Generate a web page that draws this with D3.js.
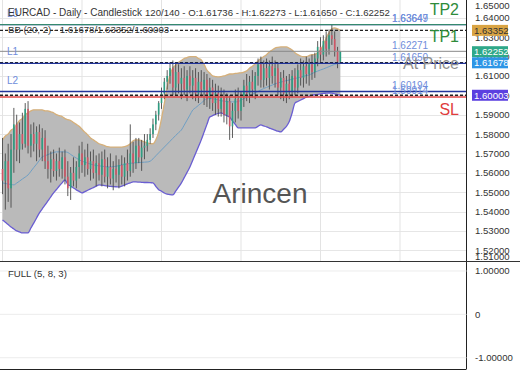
<!DOCTYPE html>
<html>
<head>
<meta charset="utf-8">
<script src="https://cdn.jsdelivr.net/npm/d3@7"></script>
<style>
  body { margin: 0; background: #fff; }
  svg { display: block; font-family: "Liberation Sans", Arial, sans-serif; }
</style>
</head>
<body>
<div id="chart"></div>
<script>
// EURCAD daily candles, 120 bars
const opens = [1.562,1.556,1.566,1.552,1.572,1.585,1.572,1.580,1.575,1.593,
  1.574,1.580,1.575,1.581,1.572,1.578,1.566,1.562,1.567,1.561,
  1.566,1.562,1.568,1.558,1.552,1.560,1.556,1.563,1.570,1.564,
  1.568,1.562,1.566,1.560,1.565,1.559,1.567,1.558,1.563,1.557,
  1.562,1.559,1.564,1.558,1.565,1.561,1.570,1.565,1.574,1.568,
  1.573,1.574,1.577,1.580,1.585,1.590,1.596,1.601,1.607,1.610,
  1.614,1.604,1.612,1.606,1.609,1.603,1.610,1.605,1.609,1.601,
  1.607,1.603,1.608,1.598,1.604,1.596,1.601,1.593,1.599,1.590,
  1.597,1.584,1.592,1.598,1.592,1.599,1.605,1.601,1.607,1.603,
  1.610,1.616,1.608,1.614,1.609,1.615,1.610,1.614,1.604,1.609,
  1.601,1.606,1.602,1.610,1.604,1.613,1.609,1.615,1.611,1.616,
  1.612,1.619,1.625,1.621,1.628,1.624,1.631,1.629,1.623,1.61736];
const highs = [1.578,1.570,1.575,1.580,1.5935,1.590,1.586,1.591,1.596,1.597,
  1.585,1.586,1.584,1.585,1.583,1.582,1.574,1.571,1.572,1.570,
  1.573,1.571,1.572,1.566,1.563,1.568,1.566,1.574,1.576,1.572,
  1.575,1.571,1.572,1.569,1.570,1.571,1.572,1.568,1.570,1.566,
  1.569,1.567,1.569,1.568,1.572,1.585,1.576,1.578,1.578,1.577,
  1.580,1.580,1.583,1.588,1.592,1.597,1.604,1.609,1.613,1.617,
  1.618,1.617,1.616,1.614,1.615,1.613,1.615,1.613,1.614,1.612,
  1.613,1.612,1.611,1.609,1.608,1.606,1.605,1.604,1.603,1.601,
  1.600,1.596,1.603,1.604,1.602,1.608,1.611,1.610,1.613,1.612,
  1.619,1.620,1.618,1.619,1.618,1.620,1.618,1.617,1.612,1.613,
  1.610,1.611,1.613,1.614,1.616,1.619,1.618,1.620,1.619,1.621,
  1.622,1.628,1.630,1.631,1.633,1.634,1.6365,1.633,1.625,1.62273];
const lows = [1.549,1.541,1.545,1.542,1.560,1.566,1.565,1.572,1.573,1.570,
  1.568,1.571,1.566,1.568,1.566,1.562,1.557,1.555,1.558,1.556,
  1.558,1.557,1.554,1.548,1.546,1.553,1.552,1.557,1.560,1.558,
  1.559,1.556,1.557,1.553,1.556,1.553,1.555,1.552,1.554,1.551,
  1.555,1.552,1.554,1.553,1.556,1.558,1.560,1.562,1.565,1.561,
  1.567,1.571,1.575,1.578,1.582,1.587,1.593,1.598,1.603,1.606,
  1.600,1.600,1.601,1.598,1.600,1.597,1.601,1.598,1.597,1.596,
  1.599,1.595,1.594,1.593,1.592,1.590,1.589,1.589,1.586,1.585,
  1.577,1.578,1.586,1.588,1.587,1.594,1.597,1.596,1.599,1.598,
  1.605,1.604,1.604,1.605,1.603,1.606,1.604,1.600,1.598,1.597,
  1.596,1.598,1.599,1.600,1.601,1.605,1.604,1.606,1.605,1.608,
  1.609,1.615,1.617,1.618,1.620,1.621,1.626,1.620,1.614,1.61650];
const closes = [1.556,1.566,1.552,1.572,1.585,1.572,1.580,1.575,1.593,1.574,
  1.580,1.575,1.581,1.572,1.578,1.566,1.562,1.567,1.561,1.566,
  1.562,1.568,1.558,1.552,1.560,1.556,1.563,1.570,1.564,1.568,
  1.562,1.566,1.560,1.565,1.559,1.567,1.558,1.563,1.557,1.562,
  1.559,1.564,1.558,1.565,1.561,1.570,1.565,1.574,1.568,1.573,
  1.574,1.577,1.580,1.585,1.590,1.596,1.601,1.607,1.610,1.614,
  1.604,1.612,1.606,1.609,1.603,1.610,1.605,1.609,1.601,1.607,
  1.603,1.608,1.598,1.604,1.596,1.601,1.593,1.599,1.590,1.597,
  1.584,1.592,1.598,1.592,1.599,1.605,1.601,1.607,1.603,1.610,
  1.616,1.608,1.614,1.609,1.615,1.610,1.614,1.604,1.609,1.601,
  1.606,1.602,1.610,1.604,1.613,1.609,1.615,1.611,1.616,1.612,
  1.619,1.625,1.621,1.628,1.624,1.631,1.629,1.623,1.6174,1.62252];

// Bollinger bands (20, 2)
const bbUpper = [1.577,1.579,1.580,1.582,1.583,1.585,1.587,1.588,1.590,1.591,
  1.592,1.5925,1.5925,1.5925,1.5925,1.592,1.592,1.5915,1.591,1.590,
  1.5895,1.589,1.588,1.5875,1.587,1.586,1.585,1.584,1.5825,1.581,
  1.5796,1.578,1.577,1.576,1.575,1.5745,1.574,1.5735,1.5733,1.5733,
  1.5733,1.5733,1.5733,1.5735,1.574,1.575,1.5765,1.577,1.577,1.5765,
  1.576,1.5755,1.575,1.575,1.577,1.581,1.588,1.596,1.604,1.6105,
  1.614,1.6155,1.617,1.618,1.619,1.6195,1.620,1.620,1.620,1.619,
  1.6183,1.616,1.613,1.6115,1.610,1.6097,1.6095,1.6097,1.610,1.6105,
  1.611,1.611,1.6113,1.6115,1.6116,1.612,1.6126,1.614,1.615,1.6163,
  1.6177,1.619,1.620,1.621,1.6224,1.6234,1.6244,1.6248,1.625,1.625,
  1.625,1.6243,1.6234,1.622,1.621,1.6203,1.620,1.620,1.6205,1.621,
  1.621,1.622,1.6234,1.626,1.6296,1.6322,1.6343,1.6348,1.6343,1.63352];
const bbMid = [1.5548,1.5545,1.5542,1.554,1.5538,1.5547,1.5557,1.5568,1.5578,1.5589,
  1.5608,1.5627,1.5645,1.5664,1.5682,1.5688,1.5694,1.570,1.5705,1.5708,
  1.5708,1.5708,1.5708,1.5705,1.5695,1.5685,1.5676,1.5667,1.566,1.5655,
  1.565,1.5645,1.5641,1.5638,1.5636,1.5634,1.5632,1.5631,1.563,1.5632,
  1.5634,1.5637,1.564,1.5643,1.5646,1.5649,1.5651,1.5652,1.5653,1.5654,
  1.5655,1.5656,1.566,1.5672,1.5688,1.5703,1.5718,1.5733,1.5748,1.5763,
  1.5778,1.5793,1.5807,1.5821,1.5846,1.5872,1.5898,1.5924,1.5936,1.5948,
  1.596,1.5973,1.5986,1.5985,1.5982,1.598,1.5976,1.5972,1.597,1.5968,
  1.5966,1.5966,1.5966,1.5968,1.5975,1.5983,1.599,1.5998,1.6005,1.6013,
  1.602,1.6028,1.6035,1.6041,1.6047,1.6053,1.6059,1.6064,1.6068,1.6072,
  1.6076,1.6079,1.6083,1.6087,1.609,1.6094,1.6098,1.6102,1.6105,1.6112,
  1.6119,1.6125,1.6131,1.6136,1.6142,1.6148,1.6154,1.616,1.6164,1.61678];
const bbLower = [1.5357,1.5345,1.5333,1.532,1.531,1.530,1.5295,1.529,1.529,1.529,
  1.5315,1.534,1.5367,1.5393,1.5414,1.5434,1.5455,1.5476,1.5496,1.5514,
  1.5532,1.5548,1.5563,1.554,1.5532,1.5522,1.5512,1.5504,1.5496,1.5503,
  1.551,1.5517,1.5524,1.5531,1.5538,1.5536,1.5534,1.5532,1.553,1.5529,
  1.5528,1.5527,1.5531,1.5537,1.5543,1.5548,1.5553,1.5553,1.5552,1.5551,
  1.555,1.555,1.5549,1.5548,1.553,1.5513,1.5505,1.5496,1.549,1.5487,
  1.5486,1.5505,1.5526,1.5548,1.5575,1.5602,1.563,1.5665,1.570,1.5735,
  1.577,1.581,1.585,1.5888,1.5895,1.5902,1.5907,1.5909,1.5902,1.5895,
  1.5888,1.5868,1.585,1.5832,1.5832,1.5832,1.5832,1.5832,1.5832,1.5832,
  1.584,1.5847,1.5842,1.5837,1.5831,1.5825,1.582,1.5815,1.5811,1.5825,
  1.584,1.5865,1.5909,1.596,1.5968,1.5976,1.5983,1.599,1.5995,1.600,
  1.6003,1.6005,1.6008,1.601,1.6011,1.6012,1.6011,1.6008,1.6004,1.60003];

// horizontal levels
const levelValues = [1.63649, 1.63647, 1.63352, 1.62271, 1.61678, 1.61650, 1.60194, 1.60003, 1.59914];
const levelKinds  = ["L0", "TP2", "bbU", "TP1", "bbM", "L1", "L2", "bbL", "SL"];
const levelTexts  = ["1.63649", "1.63647", "", "1.62271", "", "1.61650", "1.60194", "", "1.59914"];

// axis
const priceTicks = [1.65, 1.64, 1.63, 1.62, 1.61, 1.60, 1.59, 1.58, 1.57, 1.56, 1.55, 1.54, 1.53, 1.52, 1.51];
const tagValues = [1.63352, 1.62252, 1.61678, 1.60003];
const tagColors = ["#d9a443", "#2fa889", "#2d95e6", "#5b3fe0"];
const gridSlots = [0, 28, 56, 84, 112, 140];
const oscTicks = [1, 0, -1];
const oscTickText = ["1.00000", "0", "-1.00000"];

const W = 520, H = 390;
const mainTop = 0, mainBot = 261, axisX = 466.5;
const subTop = 261, subBot = 369;

const svg = d3.select("#chart").append("svg")
  .attr("width", W).attr("height", H);

const x = d3.scaleLinear().domain([0, 140]).range([2.5, 400]);
const y = d3.scaleLinear().domain([1.515, 1.6492]).range([260, 0]);
const yOsc = d3.scaleLinear().domain([-1.26, 1.23]).range([subBot, subTop]);

svg.append("defs").append("clipPath").attr("id", "mainclip")
  .append("rect").attr("x", 0).attr("y", mainTop).attr("width", axisX).attr("height", mainBot - mainTop);

const main = svg.append("g").attr("clip-path", "url(#mainclip)");

// grid
main.selectAll("line.hg").data(priceTicks).enter().append("line")
  .attr("x1", 0).attr("x2", axisX)
  .attr("y1", d => Math.round(y(d)) + 0.5).attr("y2", d => Math.round(y(d)) + 0.5)
  .attr("stroke", "#e6e6e6").attr("stroke-width", 1);
main.selectAll("line.vg").data(gridSlots).enter().append("line")
  .attr("x1", d => x(d)).attr("x2", d => x(d))
  .attr("y1", mainTop).attr("y2", mainBot)
  .attr("stroke", "#e3e3e3").attr("stroke-width", 1);

// BB fill and lines
const idx = d3.range(closes.length);
main.append("path").datum(idx)
  .attr("d", d3.area().x(i => x(i)).y0(i => y(bbLower[i])).y1(i => y(bbUpper[i])).curve(d3.curveMonotoneX))
  .attr("fill", "#bababa");
main.append("path").datum(idx)
  .attr("d", d3.line().x(i => x(i)).y(i => y(bbUpper[i])).curve(d3.curveMonotoneX))
  .attr("fill", "none").attr("stroke", "#d6b07a").attr("stroke-width", 1.3);
main.append("path").datum(idx)
  .attr("d", d3.line().x(i => x(i)).y(i => y(bbLower[i])).curve(d3.curveMonotoneX))
  .attr("fill", "none").attr("stroke", "#6a5ed2").attr("stroke-width", 1.3);
main.append("path").datum(idx)
  .attr("d", d3.line().x(i => x(i)).y(i => y(bbMid[i])).curve(d3.curveMonotoneX))
  .attr("fill", "none").attr("stroke", "#6f9fc4").attr("stroke-width", 1);

// candles
const up = "#2e9e82", down = "#d05565";
const candles = main.selectAll("g.c").data(idx).enter().append("g");
candles.append("line")
  .attr("x1", i => x(i)).attr("x2", i => x(i))
  .attr("y1", i => y(highs[i])).attr("y2", i => y(lows[i]))
  .attr("stroke", "#4a4a4a").attr("stroke-width", 0.9);
candles.append("rect")
  .attr("x", i => x(i) - 0.8)
  .attr("width", 1.6)
  .attr("y", i => y(Math.max(opens[i], closes[i])))
  .attr("height", i => Math.max(1, Math.abs(y(opens[i]) - y(closes[i]))))
  .attr("fill", i => closes[i] >= opens[i] ? up : down);

// level lines
const levelStyle = {
  L0:  { stroke: "#22349a", w: 1.4, dash: null },
  TP2: { stroke: "#3a9a66", w: 1, dash: null },
  bbU: { stroke: "#222", w: 1.4, dash: "3,2" },
  TP1: { stroke: "#8a8a8a", w: 1, dash: null },
  bbM: { stroke: "#222", w: 1.4, dash: "3,2" },
  L1:  { stroke: "#22349a", w: 1.4, dash: null },
  L2:  { stroke: "#22349a", w: 1.4, dash: null },
  bbL: { stroke: "#222", w: 1.4, dash: "3,2" },
  SL:  { stroke: "#e04848", w: 1.4, dash: null }
};
levelValues.forEach((v, k) => {
  const s = levelStyle[levelKinds[k]];
  main.append("line")
    .attr("x1", 0).attr("x2", axisX)
    .attr("y1", y(v)).attr("y2", y(v))
    .attr("stroke", s.stroke).attr("stroke-width", s.w)
    .attr("stroke-dasharray", s.dash);
  if (levelTexts[k]) {
    main.append("text")
      .attr("x", 392).attr("y", y(v) - 2.5)
      .attr("font-size", 10).attr("fill", "#6f8ddb")
      .text(levelTexts[k]);
  }
});

// left level names
[["L0", 1.63649], ["L1", 1.61650], ["L2", 1.60194]].forEach(([t, v]) => {
  main.append("text").attr("x", 7).attr("y", y(v) - 8)
    .attr("font-size", 10).attr("fill", "#6f8ddb").text(t);
});

// big labels
const big = [["TP2", 1.63649, "#2e8b3a", -10], ["TP1", 1.62271, "#2e8b3a", -9],
             ["At Price", 1.61650, "#8f8f8f", 6], ["SL", 1.59914, "#e03c3c", 18]];
big.forEach(([t, v, c, dy]) => {
  main.append("text").attr("x", 459).attr("y", y(v) + dy)
    .attr("text-anchor", "end").attr("font-size", 16).attr("fill", c).text(t);
});

main.append("text").attr("x", 260).attr("y", 203)
  .attr("text-anchor", "middle").attr("font-size", 28).attr("fill", "#555")
  .text("Arincen");

// titles
svg.append("text").attr("x", 8).attr("y", 16).attr("font-size", 10).attr("fill", "#333")
  .text("EURCAD - Daily - Candlestick");
svg.append("text").attr("x", 145).attr("y", 16).attr("font-size", 9.6).attr("fill", "#333")
  .text("120/140 - O:1.61736 - H:1.62273 - L:1.61650 - C:1.62252");
svg.append("text").attr("x", 8).attr("y", 33).attr("font-size", 9.6).attr("fill", "#333")
  .text("BB (20, 2) - 1.61678/1.63352/1.60003");

// price axis
svg.append("line").attr("x1", axisX).attr("x2", axisX).attr("y1", 0).attr("y2", subBot)
  .attr("stroke", "#222");
svg.append("line").attr("x1", 0).attr("x2", W).attr("y1", subTop + 0.5).attr("y2", subTop + 0.5)
  .attr("stroke", "#333");
svg.append("line").attr("x1", 0).attr("x2", axisX).attr("y1", subBot + 0.5).attr("y2", subBot + 0.5)
  .attr("stroke", "#222");

svg.selectAll("text.pt").data(priceTicks).enter().append("text")
  .attr("x", 475).attr("y", d => Math.min(Math.max(y(d), 5), 256) + 3.5)
  .attr("font-size", 9.6).attr("fill", "#333")
  .text(d => d3.format(".5f")(d));

// value tags
const tagY = [30.5, 52, 64, 96];
tagValues.forEach((v, k) => {
  const cy = Math.abs(y(v) - tagY[k]) < 3 ? y(v) : tagY[k];
  svg.append("rect").attr("x", 472).attr("y", cy - 5.5).attr("width", 36).attr("height", 11)
    .attr("fill", tagColors[k]);
  svg.append("text").attr("x", 474).attr("y", cy + 3.5)
    .attr("font-size", 9.6).attr("fill", k === 0 ? "#333" : "#fff")
    .text(d3.format(".5f")(v));
});

// oscillator panel
svg.selectAll("line.og").data(oscTicks).enter().append("line")
  .attr("x1", 0).attr("x2", axisX)
  .attr("y1", d => yOsc(d)).attr("y2", d => yOsc(d))
  .attr("stroke", "#ececec");
svg.selectAll("text.ot").data(oscTicks).enter().append("text")
  .attr("x", 475).attr("y", d => yOsc(d) + 3.5)
  .attr("font-size", 9.6).attr("fill", "#333")
  .text((d, k) => oscTickText[k]);
svg.append("text").attr("x", 8).attr("y", 277).attr("font-size", 9.6).attr("fill", "#333")
  .text("FULL (5, 8, 3)");
</script>
</body>
</html>
